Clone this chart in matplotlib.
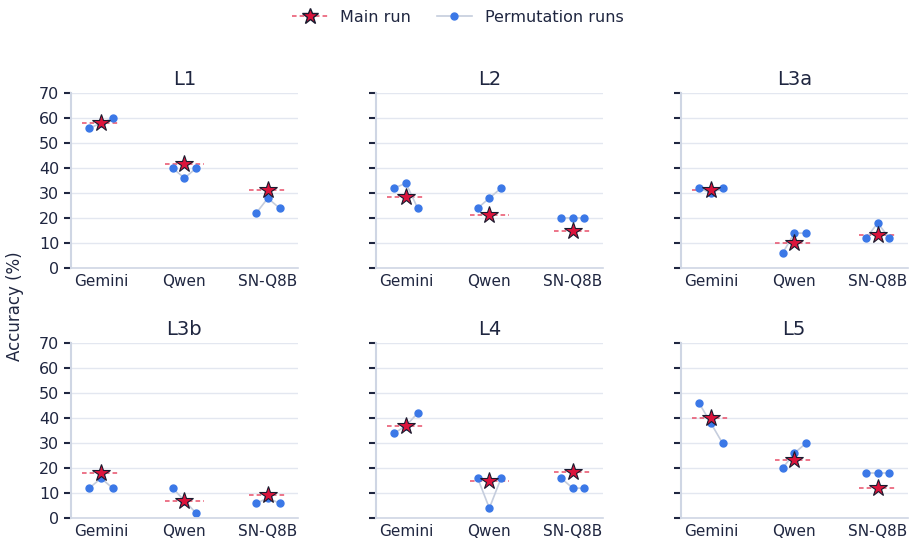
import matplotlib
matplotlib.use("Agg")
import matplotlib.pyplot as plt
from matplotlib.lines import Line2D

levels = ["L1", "L2", "L3a", "L3b", "L4", "L5"]
models = ["Gemini", "Qwen", "SN-Q8B"]

# main run accuracy per level, per model
main_l1 = [58, 41.7, 31.3]
main_l2 = [28.4, 21.2, 15]
main_l3a = [31.3, 10, 13.2]
main_l3b = [18, 7, 9.3]
main_l4 = [36.7, 15, 18.5]
main_l5 = [40, 23.3, 12.1]

# permutation runs (3 per model)
perm_l1 = [[56, 58, 60], [40, 36, 40], [22, 28, 24]]
perm_l2 = [[32, 34, 24], [24, 28, 32], [20, 20, 20]]
perm_l3a = [[32, 30, 32], [6, 14, 14], [12, 18, 12]]
perm_l3b = [[12, 16, 12], [12, 7, 2], [6, 8, 6]]
perm_l4 = [[34, 37, 42], [16, 4, 16], [16, 12, 12]]
perm_l5 = [[46, 38, 30], [20, 26, 30], [18, 18, 18]]

mains = [main_l1, main_l2, main_l3a, main_l3b, main_l4, main_l5]
perms = [perm_l1, perm_l2, perm_l3a, perm_l3b, perm_l4, perm_l5]

txt = "#1f2640"
grid_c = "#e3e7f0"
spine_c = "#cfd6e4"
star_c = "#dc143c"
dash_c = "#e8506a"
dot_c = "#3b78e7"
link_c = "#c5cddd"

plt.rcParams["font.family"] = "DejaVu Sans"
plt.rcParams["text.color"] = txt

fig, axes = plt.subplots(2, 3, figsize=(9.16, 5.42), dpi=100, sharey=True)
fig.subplots_adjust(left=0.0775, right=0.991, top=0.828, bottom=0.044,
                    wspace=0.344, hspace=0.43)

offs = [-0.14, 0.0, 0.14]
for ax, lvl, m, p in zip(axes.flat, levels, mains, perms):
    for i in range(len(models)):
        xs = [i + o for o in offs]
        ax.plot(xs, p[i], color=link_c, lw=1.2, zorder=2,
                marker="o", markersize=5, markerfacecolor=dot_c,
                markeredgecolor=dot_c)
        ax.plot([i - 0.23, i + 0.23], [m[i], m[i]], color=dash_c, lw=1.1,
                ls=(0, (3, 2)), zorder=1)
        ax.plot(i, m[i], marker="*", markersize=13, color=star_c,
                markeredgecolor="#1a1a2e", markeredgewidth=0.8, zorder=4)
    ax.set_title(lvl, fontsize=14, color=txt, pad=6)
    ax.set_xlim(-0.36, 2.36)
    ax.set_ylim(0, 70)
    ax.set_yticks(range(0, 71, 10))
    ax.set_xticks(range(len(models)))
    ax.set_xticklabels(models)
    ax.yaxis.grid(True, color=grid_c, lw=1)
    ax.set_axisbelow(True)
    for s in ["top", "right"]:
        ax.spines[s].set_visible(False)
    ax.spines["left"].set_color(spine_c)
    ax.spines["bottom"].set_color(spine_c)
    ax.spines["left"].set_linewidth(1.5)
    ax.spines["bottom"].set_linewidth(1.2)
    ax.tick_params(axis="x", length=0, labelsize=11, labelcolor=txt, pad=4)
    ax.tick_params(axis="y", length=5, width=1.5, color=txt, labelsize=11.5,
                   labelcolor=txt)

fig.text(0.016, 0.436, "Accuracy (%)", rotation=90, va="center", ha="center",
         fontsize=12, color=txt)

handles = [
    Line2D([0], [0], color=dash_c, ls=(0, (3, 2)), lw=1.1, marker="*",
           markersize=12, markerfacecolor=star_c, markeredgecolor="#1a1a2e"),
    Line2D([0], [0], color=link_c, lw=1.2, marker="o", markersize=5,
           markerfacecolor=dot_c, markeredgecolor=dot_c),
]
fig.legend(handles, ["Main run", "Permutation runs"], loc="upper center",
           bbox_to_anchor=(0.5, 1.008), ncol=2, frameon=False, fontsize=11.5,
           handlelength=2.2, columnspacing=1.6)

fig.savefig("out.png", dpi=100)
